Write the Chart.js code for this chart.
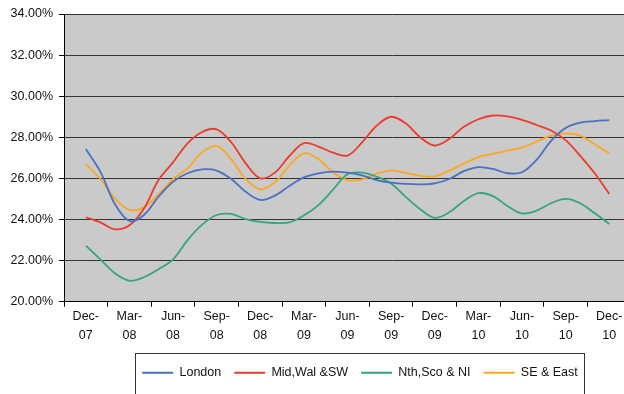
<!DOCTYPE html>
<html>
<head>
<meta charset="utf-8">
<script src="https://cdn.jsdelivr.net/npm/chart.js@4/dist/chart.umd.min.js"></script>
<style>
  html, body { margin: 0; padding: 0; background: #fff; overflow: hidden; }
  #wrap { width: 720px; height: 394px; }
</style>
</head>
<body>
<div id="wrap"><canvas id="chart_1" width="720" height="394"></canvas></div>
<script>
// monthly categories
const months = ['Dec-07', 'Jan-08', 'Feb-08', 'Mar-08', 'Apr-08', 'May-08', 'Jun-08', 'Jul-08', 'Aug-08',
  'Sep-08', 'Oct-08', 'Nov-08', 'Dec-08', 'Jan-09', 'Feb-09', 'Mar-09', 'Apr-09', 'May-09', 'Jun-09',
  'Jul-09', 'Aug-09', 'Sep-09', 'Oct-09', 'Nov-09', 'Dec-09', 'Jan-10', 'Feb-10', 'Mar-10', 'Apr-10',
  'May-10', 'Jun-10', 'Jul-10', 'Aug-10', 'Sep-10', 'Oct-10', 'Nov-10', 'Dec-10']

const london = [27.43, 26.33, 24.75, 23.93, 24.22, 25.11, 25.84, 26.25, 26.44, 26.38, 25.97, 25.35, 24.95,
  25.16, 25.63, 26.05, 26.25, 26.33, 26.28, 26.15, 25.92, 25.79, 25.73, 25.71, 25.76, 25.97, 26.35, 26.55,
  26.46, 26.25, 26.30, 26.90, 27.83, 28.45, 28.71, 28.79, 28.84]
const midWal = [24.11, 23.86, 23.52, 23.72, 24.54, 25.92, 26.78, 27.71, 28.26, 28.39, 27.76, 26.73, 26.00,
  26.28, 27.09, 27.72, 27.55, 27.25, 27.11, 27.75, 28.56, 29.00, 28.68, 28.00, 27.60, 27.92, 28.51, 28.88,
  29.06, 29.02, 28.85, 28.60, 28.33, 27.86, 27.10, 26.25, 25.24]
const nthSco = [22.73, 22.06, 21.38, 21.02, 21.19, 21.58, 22.06, 23.00, 23.75, 24.22, 24.27, 24.02, 23.88,
  23.83, 23.86, 24.20, 24.70, 25.45, 26.20, 26.28, 26.08, 25.75, 25.10, 24.50, 24.08, 24.35, 24.90, 25.28,
  25.14, 24.66, 24.30, 24.43, 24.79, 25.00, 24.79, 24.30, 23.78]
const seEast = [26.69, 25.97, 25.03, 24.47, 24.59, 25.23, 25.97, 26.49, 27.27, 27.58, 26.93, 25.97, 25.47,
  25.81, 26.62, 27.22, 26.94, 26.30, 25.92, 25.95, 26.23, 26.38, 26.27, 26.13, 26.10, 26.38, 26.72, 27.04,
  27.19, 27.35, 27.50, 27.79, 28.08, 28.19, 28.08, 27.66, 27.22]

const seriesNames = ['London', 'Mid,Wal &SW', 'Nth,Sco & NI', 'SE & East']
const seriesColours = ['#4a70c2', '#ee3a2a', '#35a57b', '#fca722']

const font = "'Liberation Sans', Arial, sans-serif"

function toPoints(values) {
  return values.map((v, i) => ({ x: i, y: v }))
}

// grey plot area + legend frame
const frame_plugin = {
  id: 'frame',
  beforeDraw(chart) {
    const a = chart.chartArea
    const ctx = chart.ctx
    ctx.save()
    ctx.fillStyle = '#cacaca'
    ctx.fillRect(a.left, a.top, a.right - a.left, a.bottom - a.top)
    ctx.restore()
  },
  afterDraw(chart) {
    const boxes = chart.legend.legendHitBoxes
    if (!boxes || !boxes.length) return
    const first = boxes[0]
    const last = boxes[boxes.length - 1]
    const ctx = chart.ctx
    ctx.save()
    ctx.strokeStyle = '#333'
    ctx.lineWidth = 1
    const l = Math.round(first.left - 7) + 0.5
    const r = Math.round(last.left + last.width + 6) + 0.5
    const t = Math.round(chart.legend.top) - 0.5
    ctx.strokeRect(l, t, r - l, 60)
    ctx.restore()
  }
}

const datasets = [london, midWal, nthSco, seEast].map((vals, k) => ({
  label: seriesNames[k],
  data: toPoints(vals),
  borderColor: seriesColours[k],
  backgroundColor: seriesColours[k],
  borderWidth: 1.8,
  pointRadius: 0,
  tension: 0.35,
  fill: false
}))

let ctx = document.getElementById('chart_1').getContext('2d')
let chart1 = new Chart(ctx, {
  type: 'line',
  data: { datasets: datasets },
  plugins: [frame_plugin],
  options: {
    responsive: false,
    animation: false,
    layout: { padding: { top: 14, bottom: 5, left: 0, right: 0 } },
    plugins: {
      tooltip: { enabled: false },
      legend: {
        position: 'bottom',
        labels: {
          usePointStyle: true,
          pointStyle: 'line',
          pointStyleWidth: 31,
          padding: 13,
          color: '#111',
          font: { family: font, size: 12.5 }
        }
      }
    },
    scales: {
      x: {
        type: 'linear',
        min: -1.5,
        max: -1.5 + 656 / 14.54,
        afterBuildTicks: function (scale) {
          let t = []
          for (let v = -1.5; v <= 37.5; v += 1.5) t.push({ value: v })
          scale.ticks = t
        },
        afterFit: function (scale) { scale.height = 51.8 },
        grid: {
          drawOnChartArea: false,
          tickLength: 5,
          tickColor: function (c) {
            if (!c.tick) return '#000'
            return Number.isInteger(c.tick.value / 3) ? 'rgba(0,0,0,0)' : '#000'
          }
        },
        border: { color: '#000', width: 1 },
        ticks: {
          autoSkip: false,
          maxRotation: 0,
          padding: 1,
          color: '#111',
          font: { family: font, size: 12.5, lineHeight: 1.46 },
          callback: function (value) {
            if (!Number.isInteger(value / 3)) return ''
            let m = months[value]
            if (!m) return ''
            let parts = m.split('-')
            return [parts[0] + '-', parts[1]]
          }
        }
      },
      y: {
        min: 20,
        max: 34,
        afterFit: function (scale) { scale.width = 64 },
        grid: { color: '#333', lineWidth: 1, tickLength: 5, tickColor: '#000' },
        border: { color: '#000', width: 1 },
        ticks: {
          stepSize: 2,
          padding: 6,
          color: '#111',
          font: { family: font, size: 12.5 },
          callback: function (v) { return v.toFixed(2) + '%' }
        }
      }
    }
  }
})
</script>
</body>
</html>
